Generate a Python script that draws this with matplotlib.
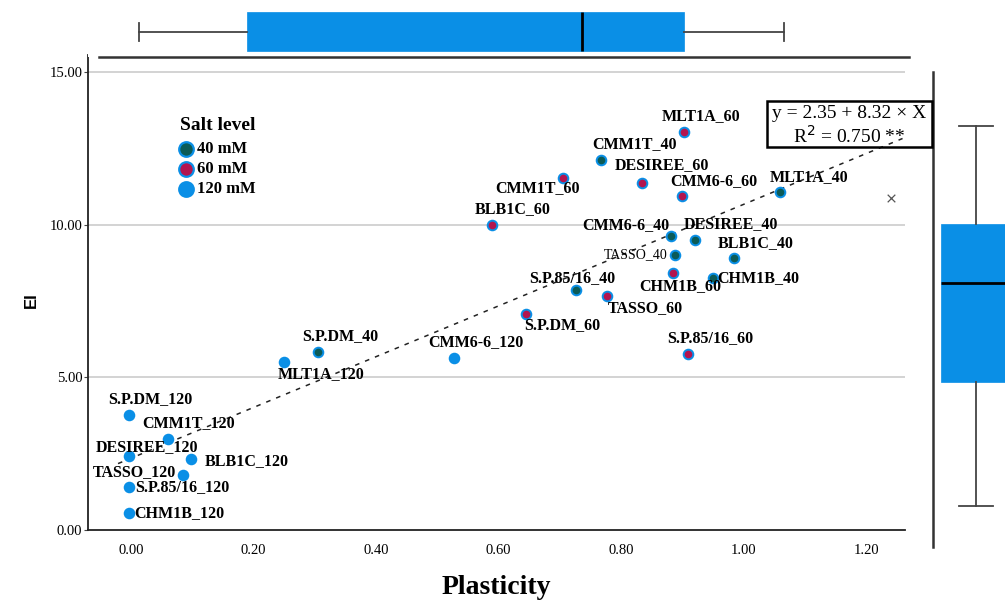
import matplotlib
matplotlib.use('Agg')
import matplotlib.pyplot as plt
from matplotlib.patches import Rectangle
from matplotlib.lines import Line2D

# ---------------- data ----------------
names = ["MLT1A_60", "CMM1T_40", "CMM1T_60", "DESIREE_60", "CMM6-6_60", "MLT1A_40",
         "BLB1C_60", "CMM6-6_40", "DESIREE_40", "TASSO_40", "BLB1C_40", "CHM1B_60",
         "CHM1B_40", "S.P.85/16_40", "TASSO_60", "S.P.DM_60", "S.P.85/16_60",
         "S.P.DM_40", "MLT1A_120", "CMM6-6_120", "S.P.DM_120", "CMM1T_120",
         "DESIREE_120", "BLB1C_120", "TASSO_120", "S.P.85/16_120", "CHM1B_120"]
salt = [60, 40, 60, 60, 60, 40,
        60, 40, 40, 40, 40, 60,
        40, 40, 60, 60, 60,
        40, 120, 120, 120, 120,
        120, 120, 120, 120, 120]
plasticity = [0.902, 0.767, 0.705, 0.834, 0.899, 1.059,
              0.589, 0.881, 0.920, 0.887, 0.984, 0.884,
              0.949, 0.726, 0.777, 0.644, 0.909,
              0.305, 0.250, 0.527, -0.003, 0.060,
              -0.003, 0.098, 0.085, -0.003, -0.003]
ei = [13.04, 12.12, 11.53, 11.37, 10.94, 11.07,
      9.99, 9.63, 9.50, 9.01, 8.91, 8.42,
      8.25, 7.86, 7.66, 7.07, 5.76,
      5.83, 5.50, 5.63, 3.77, 2.98,
      2.42, 2.33, 1.80, 1.41, 0.56]

intercept, slope = 2.35, 8.32
r2_text = "0.750 **"

# box plot summaries
x_box = dict(whislo=0.013, q1=0.189, med=0.736, q3=0.902, whishi=1.065)
y_box = dict(whislo=0.79, q1=4.85, med=8.09, q3=10.02, whishi=13.24)

salt_levels = [40, 60, 120]
salt_labels = ["40 mM", "60 mM", "120 mM"]

xticks = [0.0, 0.2, 0.4, 0.6, 0.8, 1.0, 1.2]
yticks = [0.0, 5.0, 10.0, 15.0]

# ---------------- layout / style ----------------
label_offsets = {  # (dx px, dy px up, ha)
    "MLT1A_60": (17, 16, 'center'), "CMM1T_40": (33, 16, 'center'),
    "CMM1T_60": (-25, -10, 'center'), "DESIREE_60": (20, 18, 'center'),
    "CMM6-6_60": (32, 15, 'center'), "MLT1A_40": (29, 15, 'center'),
    "BLB1C_60": (21, 16, 'center'), "CMM6-6_40": (-45, 11, 'center'),
    "DESIREE_40": (36, 16, 'center'), "TASSO_40": (-7, 0, 'right'),
    "BLB1C_40": (22, 15, 'center'), "CHM1B_60": (8, -13, 'center'),
    "CHM1B_40": (5, 0, 'left'), "S.P.85/16_40": (-4, 12, 'center'),
    "TASSO_60": (38, -12, 'center'), "S.P.DM_60": (37, -11, 'center'),
    "S.P.85/16_60": (22, 16, 'center'), "S.P.DM_40": (22, 16, 'center'),
    "MLT1A_120": (37, -12, 'center'), "CMM6-6_120": (22, 16, 'center'),
    "S.P.DM_120": (21, 16, 'center'), "CMM1T_120": (21, 16, 'center'),
    "DESIREE_120": (18, 9, 'center'), "BLB1C_120": (14, -2, 'left'),
    "TASSO_120": (-7, 3, 'right'), "S.P.85/16_120": (6, 0, 'left'),
    "CHM1B_120": (5, 0, 'left'),
}

BLUE = '#0a8fe6'
face = {40: '#0b5b57', 60: '#b3154f', 120: BLUE}
edge = {40: BLUE, 60: BLUE, 120: BLUE}
SERIF = 'Liberation Serif'

W, H = 1005, 602
fig = plt.figure(figsize=(W / 100, H / 100), dpi=100)


def fr(l, t, r, b):
    return [l / W, 1 - b / H, (r - l) / W, (b - t) / H]


def fx(px):
    return px / W


def fy(py):
    return 1 - py / H


# main axes
ax = fig.add_axes(fr(88, 55, 905, 530))
x0 = -0.070
x1 = 1.263
ax.set_xlim(x0, x1)
ax.set_ylim(0, 15.56)
for s in ['top', 'right']:
    ax.spines[s].set_visible(False)
for s in ['left', 'bottom']:
    ax.spines[s].set_color('#222222')
    ax.spines[s].set_linewidth(1.3)
ax.set_xticks(xticks)
ax.set_xticklabels([f"{v:.2f}" for v in xticks], fontfamily=SERIF, fontsize=10.5)
ax.set_yticks(yticks)
ax.set_yticklabels([f"{v:.2f}" for v in yticks], fontfamily=SERIF, fontsize=10.5)
ax.tick_params(axis='x', length=0, pad=10)
ax.tick_params(axis='y', length=3, pad=1, color='#444444')
for v in yticks[1:]:
    ax.axhline(v, color='#c8c8c8', lw=1.1, zorder=0)

# regression line
lx = [-0.021, 1.259]
ax.plot(lx, [intercept + slope * v for v in lx], ls=(0, (3, 4)), color='#222222', lw=1.1,
        zorder=1, clip_on=False)

# points
for sl in salt_levels:
    xs = [p for p, s in zip(plasticity, salt) if s == sl]
    ys = [e for e, s in zip(ei, salt) if s == sl]
    ax.scatter(xs, ys, s=48, c=face[sl], edgecolors=edge[sl], linewidths=1.4, zorder=3)

for n, p, e in zip(names, plasticity, ei):
    dx, dy, ha = label_offsets[n]
    if n == "TASSO_40":
        ax.annotate(n, (p, e), xytext=(dx, dy), textcoords='offset pixels', ha=ha,
                    va='center', fontfamily=SERIF, fontsize=10, zorder=4)
    else:
        ax.annotate(n, (p, e), xytext=(dx, dy), textcoords='offset pixels', ha=ha,
                    va='center', fontfamily=SERIF, fontweight='bold', fontsize=11.5, zorder=4)

ax.scatter([1.240], [10.87], marker='x', s=30, color='#555555', linewidths=0.9, zorder=3)

# legend (manual)
fig.text(fx(180), fy(125), 'Salt level', ha='left', va='center', fontfamily=SERIF,
         fontweight='bold', fontsize=14)
for i, (sl, lab) in enumerate(zip(salt_levels, salt_labels)):
    yy = 149 + 20 * i
    fig.add_artist(Line2D([fx(186)], [fy(yy)], ls='none', marker='o', markersize=10.5,
                          markerfacecolor=face[sl], markeredgecolor=edge[sl],
                          markeredgewidth=1.6, transform=fig.transFigure))
    fig.text(fx(197), fy(yy), lab, ha='left', va='center', fontfamily=SERIF,
             fontweight='bold', fontsize=12)

# axis titles
fig.text(fx(496), fy(587), 'Plasticity', ha='center', va='center', fontfamily=SERIF,
         fontweight='bold', fontsize=20)
fig.text(fx(31), fy(300), 'EI', ha='center', va='center', rotation=90,
         fontfamily='Liberation Sans', fontweight='bold', fontsize=12)

# equation box
fig.add_artist(Rectangle((fx(767), fy(147)), (932 - 767) / W, (147 - 101) / H,
                         transform=fig.transFigure, fill=False, ec='black', lw=1.8))
fig.text(fx(849.5), fy(113), f"y = {intercept:.2f} + {slope:.2f} × X", ha='center',
         va='center', fontfamily=SERIF, fontsize=14)
fig.text(fx(849.5), fy(136), f"R$^2$ = {r2_text}", ha='center',
         va='center', fontfamily=SERIF, fontsize=14)

# top box plot
axt = fig.add_axes(fr(88, 0, 910, 57))
axt.set_xlim(x0, x0 + (910 - 88) / 613)
axt.set_ylim(0, 57)
stats_x = [dict(x_box, fliers=[])]
axt.bxp(stats_x, positions=[25.5], widths=[39], vert=False, patch_artist=True,
        capwidths=[18],
        boxprops=dict(facecolor=BLUE, edgecolor=BLUE, lw=0.5),
        medianprops=dict(color='black', lw=2),
        whiskerprops=dict(color='#444444', lw=1.3),
        capprops=dict(color='#444444', lw=1.3), showfliers=False)
for s in ['top', 'right', 'left']:
    axt.spines[s].set_visible(False)
axt.spines['bottom'].set_color('#333333')
axt.spines['bottom'].set_linewidth(1.8)
axt.spines['bottom'].set_bounds(x0 + 11 / 613, x0 + (909 - 88) / 613)
axt.set_xticks([])
axt.set_yticks([])

# right box plot
axr = fig.add_axes(fr(933, 72, 1020, 547))
axr.set_ylim(-0.557, 15.0)
axr.set_xlim(0, 87)
stats_y = [dict(y_box, fliers=[])]
axr.bxp(stats_y, positions=[43], widths=[70], vert=True, patch_artist=True,
        capwidths=[34],
        boxprops=dict(facecolor=BLUE, edgecolor=BLUE, lw=0.5),
        medianprops=dict(color='black', lw=2),
        whiskerprops=dict(color='#444444', lw=1.3),
        capprops=dict(color='#444444', lw=1.3), showfliers=False)
for s in ['top', 'right', 'bottom']:
    axr.spines[s].set_visible(False)
axr.spines['left'].set_color('#333333')
axr.spines['left'].set_linewidth(1.8)
axr.set_xticks([])
axr.set_yticks([])

fig.savefig('out.png', dpi=100)
